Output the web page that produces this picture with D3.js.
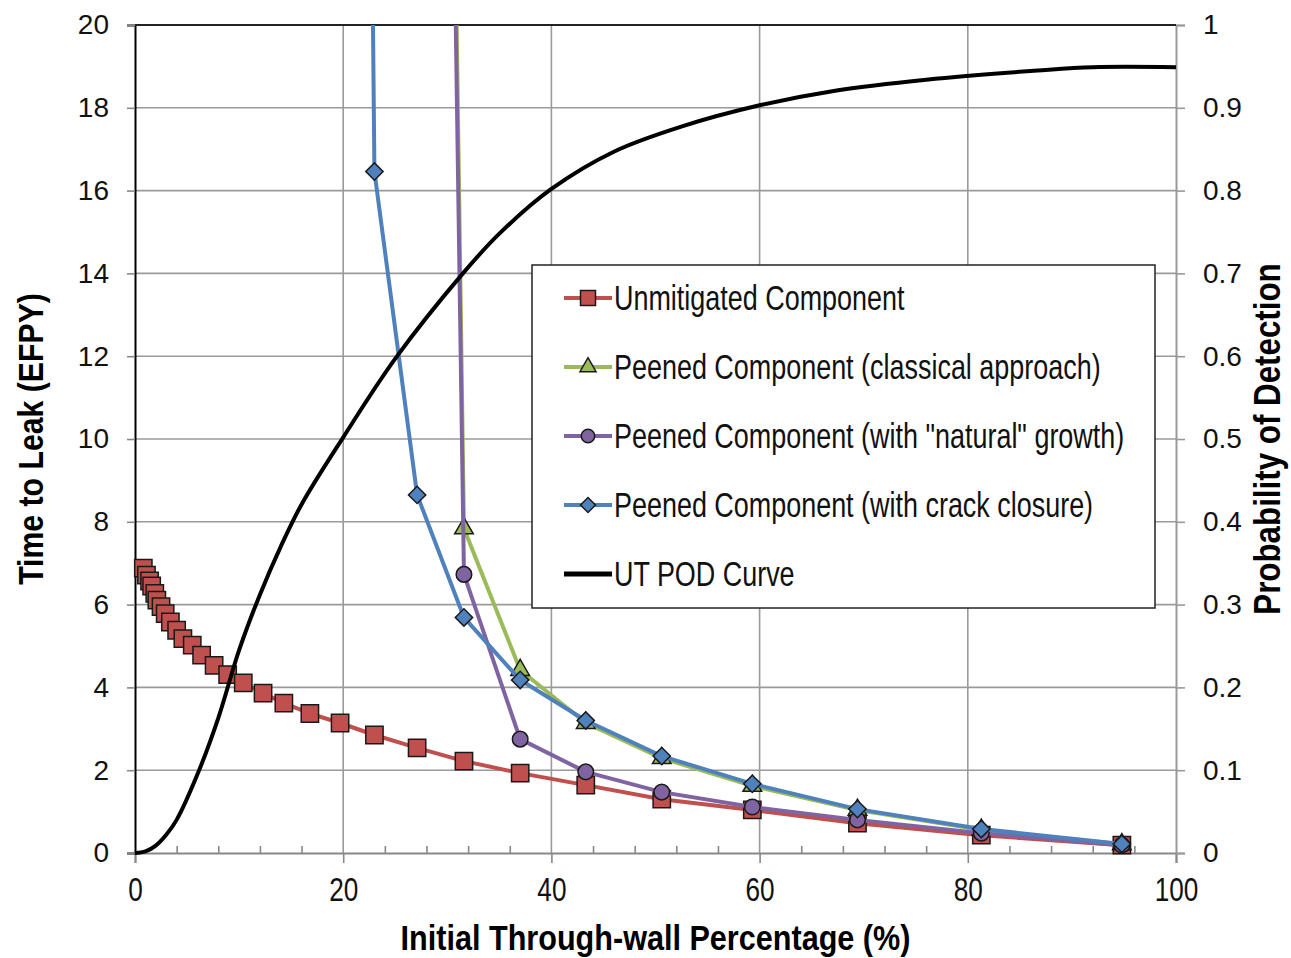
<!DOCTYPE html>
<html>
<head>
<meta charset="utf-8">
<script src="https://cdn.jsdelivr.net/npm/d3@7"></script>
<style>
  body { margin: 0; background: #fff; }
  .tick-y { font-family: "Liberation Sans", Arial, sans-serif; font-size: 28px; fill: #111; }
  .tick-x { font-family: "Liberation Sans", Arial, sans-serif; font-size: 34px; fill: #111; }
  .title { font-family: "Liberation Sans", Arial, sans-serif; font-size: 36px; font-weight: bold; fill: #000; }
  .legend text { font-family: "Liberation Sans", Arial, sans-serif; font-size: 35px; fill: #111; }
</style>
</head>
<body>
<div id="chart"></div>
<script>
// through-wall % values
const unmitX = [0.8, 1.1, 1.4, 1.6, 1.9, 2.1, 2.5, 2.9, 3.4, 4.0, 4.6, 5.5, 6.4, 7.6, 8.9, 10.4, 12.3, 14.3, 16.8, 19.7,
  23.0, 27.1, 31.6, 37.0, 43.3, 50.6, 59.3, 69.4, 81.3, 94.8]
const unmitY = [6.88, 6.71, 6.57, 6.45, 6.27, 6.11, 5.95, 5.78, 5.58, 5.38, 5.18, 5.02, 4.78, 4.53, 4.31, 4.11, 3.86, 3.62, 3.37, 3.14,
  2.85, 2.54, 2.22, 1.93, 1.64, 1.30, 1.04, 0.72, 0.43, 0.19]

const classicX = [30.45, 31.6, 37.0, 43.3, 50.6, 59.3, 69.4, 81.3, 94.8]
const classicY = [27.85, 7.84, 4.42, 3.14, 2.29, 1.62, 1.04, 0.56, 0.21]

const naturalX = [30.35, 31.6, 37.0, 43.3, 50.6, 59.3, 69.4, 81.3, 94.8]
const naturalY = [27.85, 6.73, 2.75, 1.96, 1.47, 1.11, 0.80, 0.48, 0.19]

const closureX = [22.55, 23.0, 27.1, 31.6, 37.0, 43.3, 50.6, 59.3, 69.4, 81.3, 94.8]
const closureY = [27.85, 16.46, 8.65, 5.69, 4.18, 3.20, 2.34, 1.67, 1.06, 0.58, 0.22]

const podX = [0, 1, 2, 3, 4, 6, 8, 10, 12, 14, 16, 20, 25, 31.5, 35, 40, 46, 52.4, 60, 67.4, 76, 86.7, 92, 100]
const podY = [0, 0.002, 0.009, 0.022, 0.040, 0.095, 0.163, 0.245, 0.312, 0.370, 0.421, 0.502, 0.597, 0.700, 0.748, 0.802, 0.847, 0.877, 0.903, 0.921, 0.934, 0.945, 0.949, 0.949]

const xTicks = [0, 20, 40, 60, 80, 100]
const yTicks = [0, 2, 4, 6, 8, 10, 12, 14, 16, 18, 20]
const y2Ticks = [0, 0.1, 0.2, 0.3, 0.4, 0.5, 0.6, 0.7, 0.8, 0.9, 1]

const seriesNames = ['Unmitigated Component', 'Peened Component (classical approach)',
  'Peened Component (with "natural" growth)', 'Peened Component (with crack closure)', 'UT POD Curve']

const W = 1291
const H = 958
const margin = { top: 25, right: 115, bottom: 105, left: 135 }
const narrow = 0.77 // condensed look of the original font

const svg = d3.select('#chart').append('svg')
  .attr('width', W)
  .attr('height', H)

const x = d3.scaleLinear().domain([0, 100]).range([margin.left, W - margin.right])
const y = d3.scaleLinear().domain([0, 20]).range([H - margin.bottom, margin.top])
const y2 = d3.scaleLinear().domain([0, 1]).range([H - margin.bottom, margin.top])

svg.append('clipPath')
  .attr('id', 'clip')
  .append('rect')
  .attr('x', x(0))
  .attr('y', y(20))
  .attr('width', x(100) - x(0))
  .attr('height', y(0) - y(20))

// grid
const grid = svg.append('g').attr('class', 'grid')
grid.selectAll('line.h')
  .data(yTicks.filter(d => d > 0 && d < 20))
  .join('line')
  .attr('x1', x(0)).attr('x2', x(100))
  .attr('y1', d => y(d)).attr('y2', d => y(d))
  .attr('stroke', '#9a9a9a').attr('stroke-width', 1.6)
grid.selectAll('line.v')
  .data(xTicks.filter(d => d > 0 && d < 100))
  .join('line')
  .attr('y1', y(0)).attr('y2', y(20))
  .attr('x1', d => x(d)).attr('x2', d => x(d))
  .attr('stroke', '#9a9a9a').attr('stroke-width', 1.6)

// axes
const xAxis = svg.append('g')
  .attr('transform', 'translate(0,' + y(0) + ')')
  .call(d3.axisBottom(x).tickValues(xTicks).tickSize(10).tickPadding(14))
xAxis.select('.domain').attr('stroke', '#888').attr('stroke-width', 2)
xAxis.selectAll('.tick line').attr('stroke', '#888').attr('stroke-width', 1.6)
xAxis.selectAll('text').attr('class', 'tick-x').attr('fill', null)
  .attr('transform', 'scale(' + narrow + ',1)')

// minor x ticks pointing inward
svg.append('g')
  .attr('transform', 'translate(0,' + y(0) + ')')
  .call(d3.axisTop(x).tickValues(d3.range(0, 101, 4).filter(d => d % 20 !== 0)).tickSize(7).tickFormat(''))
  .call(g => g.select('.domain').remove())
  .selectAll('.tick line').attr('stroke', '#888').attr('stroke-width', 1.6)

const yAxis = svg.append('g')
  .attr('transform', 'translate(' + x(0) + ',0)')
  .call(d3.axisLeft(y).tickValues(yTicks).tickSize(8).tickPadding(18))
yAxis.select('.domain').attr('stroke', '#000').attr('stroke-width', 2)
yAxis.selectAll('.tick line').attr('stroke', '#888').attr('stroke-width', 1.6)
yAxis.selectAll('text').attr('class', 'tick-y').attr('fill', null)

const y2Axis = svg.append('g')
  .attr('transform', 'translate(' + x(100) + ',0)')
  .call(d3.axisRight(y2).tickValues(y2Ticks).tickSize(9).tickPadding(18).tickFormat(d3.format('')))
y2Axis.select('.domain').attr('stroke', '#999').attr('stroke-width', 2)
y2Axis.selectAll('.tick line').attr('stroke', '#999').attr('stroke-width', 1.6)
y2Axis.selectAll('text').attr('class', 'tick-y').attr('fill', null)

// top border
svg.append('line')
  .attr('x1', x(0)).attr('x2', x(100))
  .attr('y1', y(20)).attr('y2', y(20))
  .attr('stroke', '#222').attr('stroke-width', 2)

// series
const series = [
  { name: seriesNames[0], xs: unmitX, ys: unmitY, color: '#C0504D', marker: d3.symbolSquare, size: 300, rot: 0 },
  { name: seriesNames[1], xs: classicX, ys: classicY, color: '#9BBB59', marker: d3.symbolTriangle, size: 150, rot: 0 },
  { name: seriesNames[2], xs: naturalX, ys: naturalY, color: '#8064A2', marker: d3.symbolCircle, size: 190, rot: 0 },
  { name: seriesNames[3], xs: closureX, ys: closureY, color: '#4F81BD', marker: d3.symbolSquare, size: 150, rot: 45 }
]

const line = d3.line().x(d => x(d[0])).y(d => y(d[1]))
const plot = svg.append('g')

series.forEach(s => {
  const pts = s.xs.map((v, i) => [v, s.ys[i]])
  plot.append('path')
    .datum(pts)
    .attr('clip-path', 'url(#clip)')
    .attr('fill', 'none')
    .attr('stroke', s.color)
    .attr('stroke-width', 4)
    .attr('stroke-linejoin', 'round')
    .attr('d', line)
  plot.append('g')
    .selectAll('path')
    .data(pts.filter(d => d[1] <= 20))
    .join('path')
    .attr('transform', d => 'translate(' + x(d[0]) + ',' + y(d[1]) + ') rotate(' + s.rot + ')')
    .attr('d', d3.symbol(s.marker, s.size))
    .attr('fill', s.color)
    .attr('stroke', '#1a1a1a')
    .attr('stroke-width', 1.5)
})

// POD curve on the secondary axis
const podLine = d3.line()
  .x(d => x(d[0]))
  .y(d => y2(d[1]))
  .curve(d3.curveCatmullRom)
plot.append('path')
  .datum(podX.map((v, i) => [v, podY[i]]))
  .attr('fill', 'none')
  .attr('stroke', '#000')
  .attr('stroke-width', 4)
  .attr('d', podLine)

// axis titles
svg.append('text')
  .attr('class', 'title')
  .attr('text-anchor', 'middle')
  .attr('transform', 'translate(' + (x(0) + x(100)) / 2 + ',950) scale(0.85,1)')
  .text('Initial Through-wall Percentage (%)')

svg.append('text')
  .attr('class', 'title')
  .attr('text-anchor', 'middle')
  .attr('transform', 'translate(43,' + (y(0) + y(20)) / 2 + ') rotate(-90) scale(0.84,1)')
  .text('Time to Leak (EFPY)')

svg.append('text')
  .attr('class', 'title')
  .attr('text-anchor', 'middle')
  .attr('transform', 'translate(1280,' + (y(0) + y(20)) / 2 + ') rotate(-90) scale(0.87,1)')
  .text('Probability of Detection')

// legend
const legend = svg.append('g')
  .attr('class', 'legend')
  .attr('transform', 'translate(532,265)')

legend.append('rect')
  .attr('width', 623)
  .attr('height', 343)
  .attr('fill', '#fff')
  .attr('stroke', '#222')
  .attr('stroke-width', 1.5)

const legendItems = series.concat([{ name: seriesNames[4], color: '#000', marker: null }])
legendItems.forEach((s, i) => {
  const g = legend.append('g').attr('transform', 'translate(0,' + (33 + i * 69) + ')')
  g.append('line')
    .attr('x1', 32).attr('x2', 80)
    .attr('stroke', s.color)
    .attr('stroke-width', s.marker ? 4 : 5)
  if (s.marker) {
    g.append('path')
      .attr('transform', 'translate(56,0) rotate(' + s.rot + ')')
      .attr('d', d3.symbol(s.marker, s.size * 0.75))
      .attr('fill', s.color)
      .attr('stroke', '#1a1a1a')
      .attr('stroke-width', 1.5)
  }
  g.append('text')
    .attr('transform', 'translate(82,12) scale(' + narrow + ',1)')
    .text(s.name)
})
</script>
</body>
</html>
